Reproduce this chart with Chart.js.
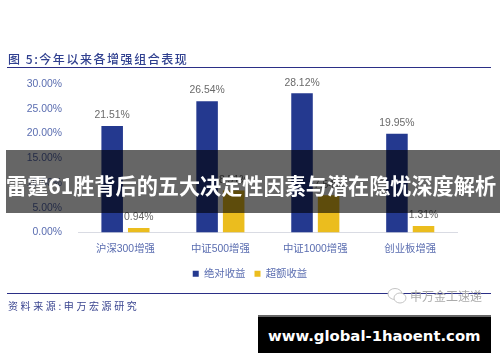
<!DOCTYPE html>
<html lang="zh"><head><meta charset="utf-8">
<script src="https://cdn.jsdelivr.net/npm/chart.js@4"></script>
<style>
html,body{margin:0;padding:0;background:#fff;width:500px;height:362px;overflow:hidden}
#wrap{position:relative;width:500px;height:362px}
#c{position:absolute;left:0;top:0;filter:blur(.35px)}
.t{position:absolute;white-space:nowrap}
.r{position:absolute;background:#2b2f86}
</style></head><body>
<div id="wrap">
<canvas id="c" width="500" height="362"></canvas>
<div class="t" id="title" style="left:8px;top:53px;font:500 12px/1 'Noto Sans CJK SC';letter-spacing:1.55px;color:#2f3f8f;filter:blur(.3px)">图 5:今年以来各增强组合表现</div>
<div class="r" style="left:7px;top:66.5px;width:484px;height:1.5px"></div>
<div class="r" style="left:7px;top:292.5px;width:484px;height:1.2px"></div>
<div class="t" style="left:8px;top:301px;font:400 10px/1 'Noto Sans CJK SC';letter-spacing:2.6px;color:#3a4590;filter:blur(.3px)">资料来源:申万宏源研究</div>
<svg style="position:absolute;left:387px;top:287px" width="20" height="18" viewBox="0 0 20 18" fill="#fff" stroke="#c4c4c4" stroke-width="1">
<ellipse cx="8" cy="7" rx="7" ry="5.5"/><ellipse cx="13" cy="11" rx="6" ry="5"/></svg>
<div class="t" style="left:410px;top:290px;font:400 12px/1 'Noto Sans CJK SC';color:#ababab;filter:blur(.4px)">申万金工速递</div>
<div style="position:absolute;left:6px;top:150px;width:494px;height:63px;background:rgba(0,0,0,.6)"></div>
<div class="t" style="left:6px;top:174px;font:700 21.15px/1 'Noto Sans CJK SC';color:#fff">雷霆61胜背后的五大决定性因素与潜在隐忧深度解析</div>
<div style="position:absolute;left:258px;top:315px;width:233px;height:38px;background:#000;border-top:2px solid #666;box-sizing:border-box"></div>
<div class="t" style="left:268px;top:329px;font:700 14.85px/1 'DejaVu Sans';color:#fff">www.global-1haoent.com</div>
</div>
<script>
const categories = ['沪深300增强','中证500增强','中证1000增强','创业板增强'];
const absoluteReturn = [21.51,26.54,28.12,19.95];
const excessReturn = [0.94,8.51,7.54,1.31];
const seriesNames = ['绝对收益','超额收益'];
const yTicks = [0,5,10,15,20,25,30];
const FONT = "'Liberation Sans','Noto Sans CJK SC'";
const AXIS = '#5a6db0';
const valueLabels = {
  id:'valueLabels',
  afterDatasetsDraw(chart){
    const ctx = chart.ctx;
    ctx.save();
    ctx.font = "10.4px "+FONT;
    ctx.fillStyle = '#6a6a6a';
    ctx.textAlign = 'center';
    ctx.textBaseline = 'middle';
    chart.data.datasets.forEach((ds,i)=>{
      chart.getDatasetMeta(i).data.forEach((bar,j)=>{
        ctx.fillText(ds.data[j].toFixed(2)+'%', bar.x, bar.y-10.5);
      });
    });
    ctx.restore();
  }
};
new Chart(document.getElementById('c'),{
  type:'bar',
  plugins:[valueLabels],
  data:{labels:categories,datasets:[
    {label:seriesNames[0],data:absoluteReturn,backgroundColor:'#24398f',yAxisID:'y'},
    {label:seriesNames[1],data:excessReturn,backgroundColor:'#ebbd1e',yAxisID:'y'}
  ]},
  options:{
    responsive:false,animation:false,
    devicePixelRatio:1,
    layout:{padding:{top:84,bottom:73,left:0,right:0}},
    datasets:{bar:{categoryPercentage:0.56,barPercentage:0.81}},
    plugins:{
      tooltip:{enabled:false},
      legend:{position:'bottom',labels:{boxWidth:6,boxHeight:6,padding:9,color:AXIS,font:{family:FONT,size:10.4}}}
    },
    scales:{
      x:{
        grid:{display:false},
        border:{color:'#d9dbe3',width:1},
        ticks:{color:AXIS,font:{family:FONT,size:10.4},padding:2,maxRotation:0},
        afterFit(s){s.height=27;}
      },
      y:{
        min:0,max:30,
        afterBuildTicks(s){s.ticks=yTicks.map(v=>({value:v}));},
        grid:{display:false},
        border:{display:false},
        ticks:{color:AXIS,font:{family:FONT,size:10.4},padding:8,callback:v=>v.toFixed(2)+'%'},
        afterFit(s){s.width=78;}
      },
      y2:{
        position:'right',display:true,
        grid:{display:false},border:{display:false},ticks:{display:false},
        afterFit(s){s.width=42.3;}
      }
    }
  }
});
</script>
</body></html>
